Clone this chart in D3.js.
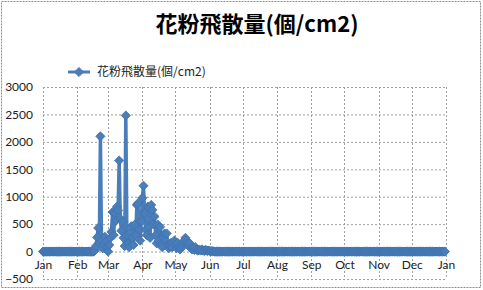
<!DOCTYPE html>
<html><head><meta charset="utf-8">
<script src="https://cdn.jsdelivr.net/npm/d3@7"></script>
<style>
html,body{margin:0;padding:0;background:#fff;}
svg{display:block;}
</style></head>
<body>
<svg id="chart" width="483" height="290"></svg>
<script>
// ---- data ----
const chartTitle = "花粉飛散量(個/cm2)";
const seriesName = "花粉飛散量(個/cm2)";
const yearStart = "2011-01-01";
const yearEnd = "2012-01-01";
const monthLabels = ["Jan","Feb","Mar","Apr","May","Jun","Jul","Aug","Sep","Oct","Nov","Dec","Jan"];
const yTicks = [-500,0,500,1000,1500,2000,2500,3000];
// pollen season: daily values starting Feb 15 (day-of-year index 45); all other days are 0
const seasonStartIndex = 45;
const seasonValues = [
  0,0,20,100,260,430,150,2100,200,60,
  120,270,180,80,0,120,250,360,720,300,
  700,560,820,750,1660,600,380,550,250,100,
  2480,300,150,80,350,460,250,120,490,300,
  850,880,400,200,550,980,1200,700,400,300,
  820,450,250,850,760,500,640,300,150,490,
  200,450,120,80,250,330,200,330,120,60,
  100,160,80,160,200,120,60,160,80,40,
  60,100,160,200,250,200,150,100,150,60,
  40,80,30,80,40,20,30,30,20,40,
  20,10,30,20,10,20,10,5,10,5,0
];

// build daily table
const parse = d3.timeParse("%Y-%m-%d");
const days = d3.timeDay.range(parse(yearStart), parse(yearEnd));
const data = days.map((d,i) => {
  const k = i - seasonStartIndex;
  return {date:d, value:(k>=0 && k<seasonValues.length)? seasonValues[k] : 0};
});

// ---- layout ----
const svg = d3.select("#chart");
const W = 483, H = 290;
const blue = "#4A7EBB";
const x = d3.scaleTime().domain([parse(yearStart), parse(yearEnd)]).range([43, 446]);
const y = d3.scaleLinear().domain([-500,3000]).range([279, 87]);
const fontAx = "'Lato','Open Sans','Liberation Sans',sans-serif";

// outer border
svg.append("rect").attr("x",1.5).attr("y",1.5).attr("width",W-4).attr("height",H-4)
  .attr("fill","#fff").attr("stroke","#8c8c8c").attr("stroke-dasharray","2,1");

// title
svg.append("text").attr("x",257).attr("y",32).attr("text-anchor","middle")
  .attr("font-family","'Noto Sans CJK JP','Noto Sans CJK SC',sans-serif")
  .attr("font-weight","bold").attr("font-size",22).attr("fill","#000").text(chartTitle);

// gridlines
const monthTicks = d3.timeMonth.range(parse(yearStart), d3.timeDay.offset(parse(yearEnd),1));
svg.append("g").selectAll("line").data(yTicks).join("line")
  .attr("x1",43).attr("x2",446).attr("y1",d=>y(d)+0.5).attr("y2",d=>y(d)+0.5)
  .attr("stroke","#a0a0a0").attr("stroke-dasharray","2,2");
svg.append("g").selectAll("line").data(monthTicks).join("line")
  .attr("x1",d=>Math.round(x(d))+0.5).attr("x2",d=>Math.round(x(d))+0.5)
  .attr("y1",y(3000)).attr("y2",y(-500))
  .attr("stroke","#a0a0a0").attr("stroke-dasharray","2,2");

// y axis labels
const yAxis = d3.axisLeft(y).tickValues(yTicks).tickSize(0).tickPadding(0).tickFormat(d3.format("d"));
const gy = svg.append("g").attr("transform","translate(33,0)").call(yAxis);
gy.select(".domain").remove();
gy.selectAll("text").attr("font-family",fontAx).attr("font-size",12).attr("fill","#222");

// x axis labels (at value 0)
const xAxis = d3.axisBottom(x).tickValues(monthTicks).tickSize(0).tickPadding(0)
  .tickFormat((d,i)=>monthLabels[i]);
const gx = svg.append("g").attr("transform",`translate(0,${y(0)+9})`).call(xAxis);
gx.select(".domain").remove();
gx.selectAll("text").attr("font-family",fontAx).attr("font-size",12).attr("fill","#222");

// series line
const line = d3.line().x(d=>x(d.date)).y(d=>y(d.value));
svg.append("path").datum(data).attr("d",line).attr("fill","none")
  .attr("stroke",blue).attr("stroke-width",3.5).attr("stroke-linejoin","round");

// markers (diamonds)
const diamond = d3.symbol().type(d3.symbolSquare).size(42)();
svg.append("g").selectAll("path").data(data).join("path")
  .attr("d",diamond)
  .attr("transform",d=>`translate(${x(d.date)},${y(d.value)}) rotate(45)`)
  .attr("fill",blue).attr("stroke","#3f72b0").attr("stroke-width",0.8);

// legend
const lg = svg.append("g");
lg.append("line").attr("x1",68).attr("x2",90).attr("y1",72).attr("y2",72)
  .attr("stroke",blue).attr("stroke-width",3);
lg.append("path").attr("d",diamond).attr("transform","translate(79,72) rotate(45)")
  .attr("fill",blue).attr("stroke","#3f72b0").attr("stroke-width",0.8);
lg.append("text").attr("x",97).attr("y",72).attr("dy","0.35em")
  .attr("font-family","'Noto Sans CJK JP','Noto Sans CJK SC',sans-serif")
  .attr("font-size",12).attr("fill","#222").text(seriesName);
</script>
</body></html>
